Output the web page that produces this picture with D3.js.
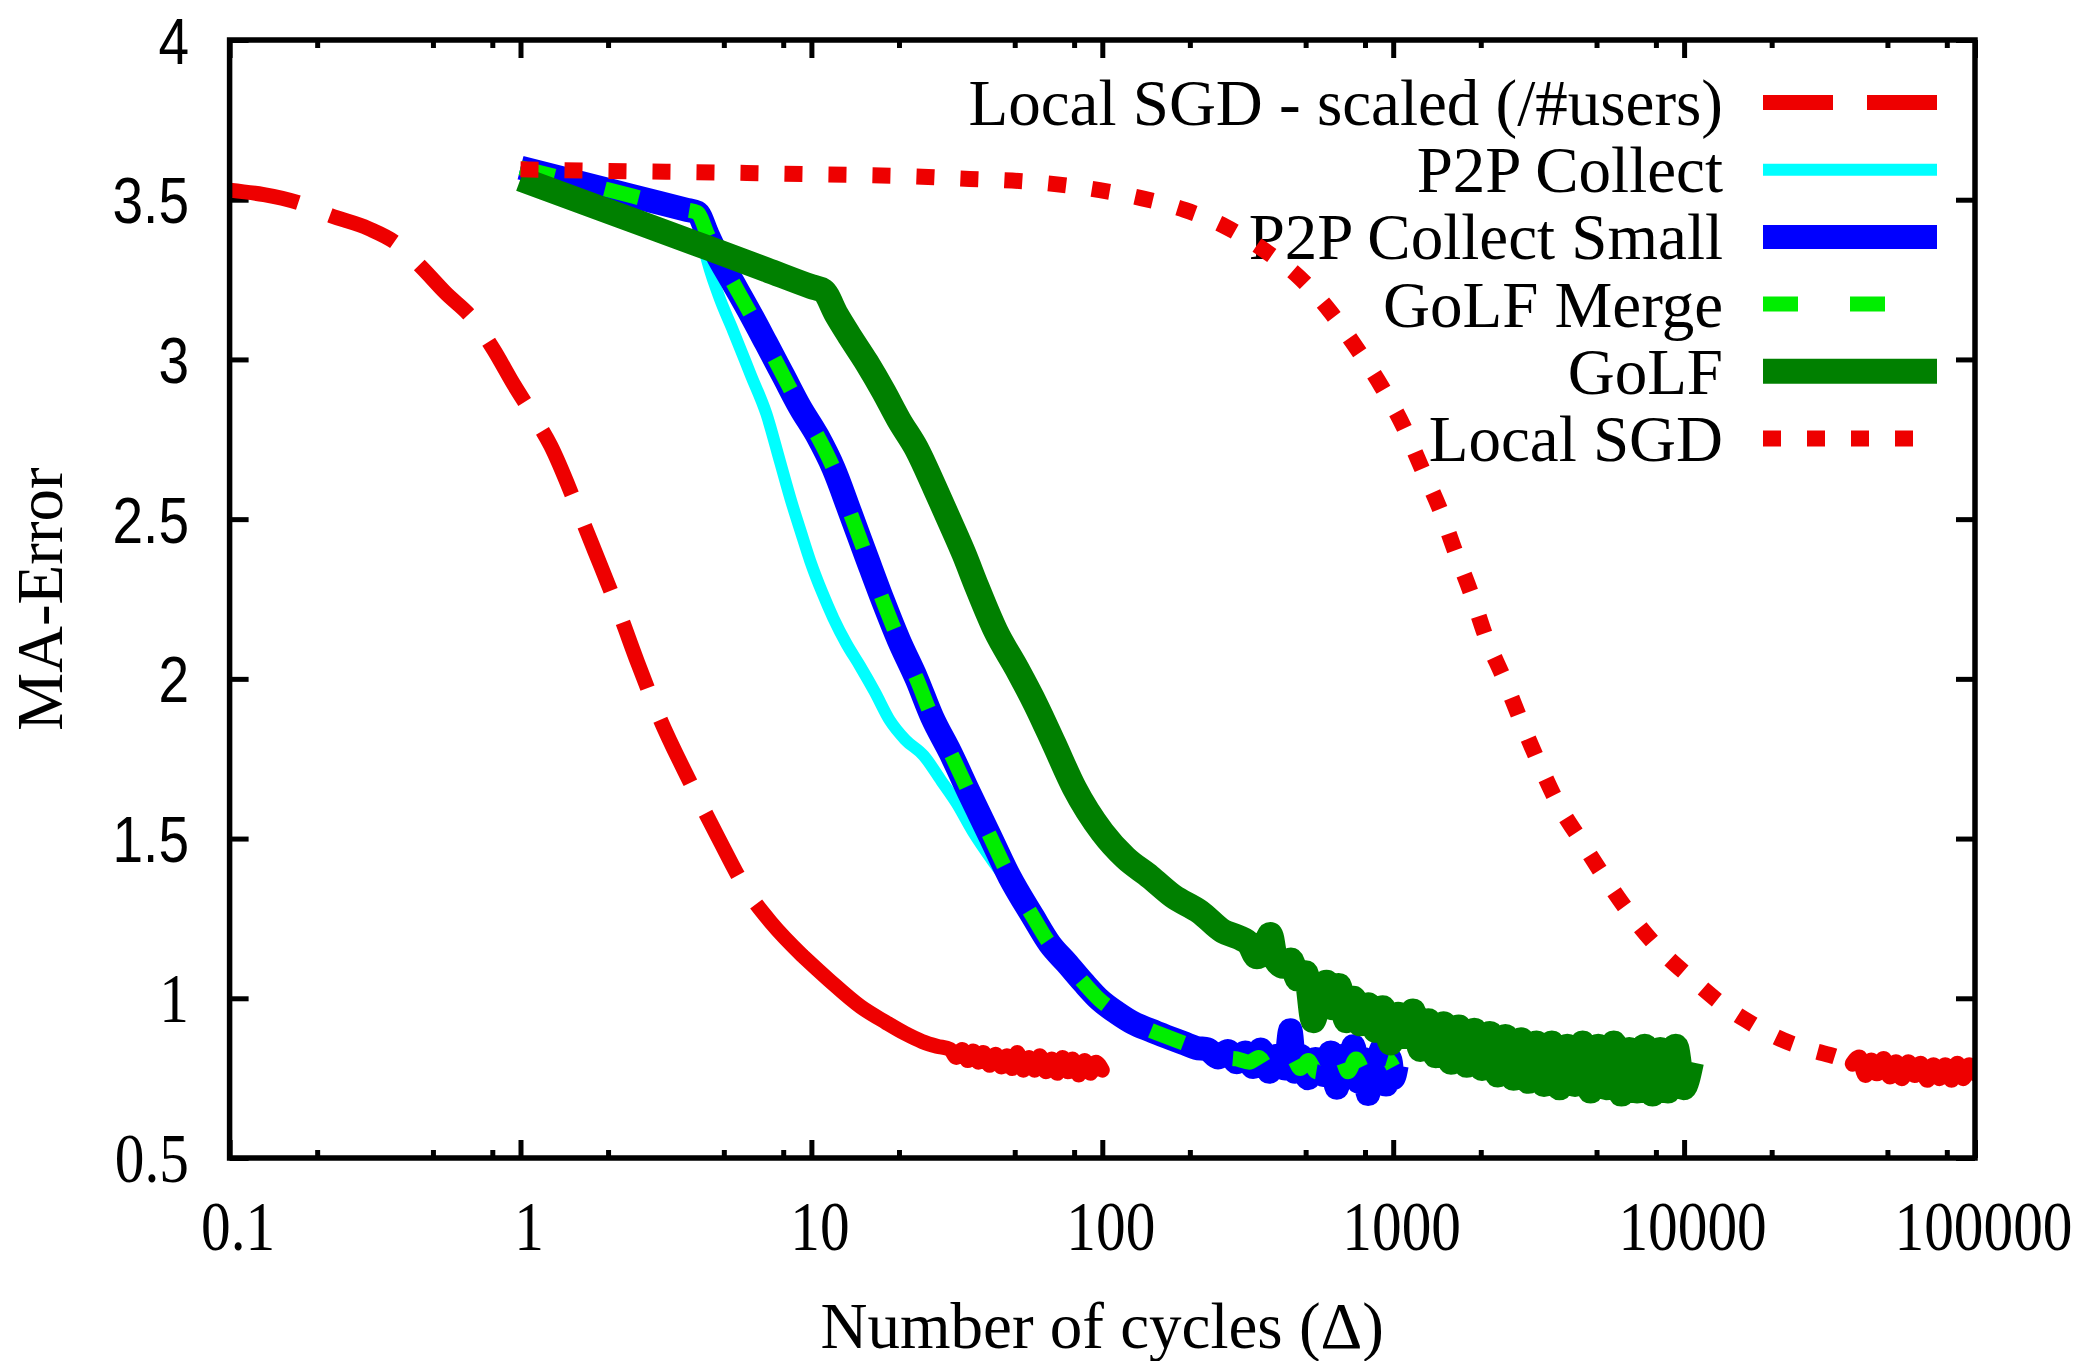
<!DOCTYPE html>
<html>
<head>
<meta charset="utf-8">
<script src="https://cdn.jsdelivr.net/npm/d3@7"></script>
<style>
    body { margin: 0; background: #fff; }
    svg { display: block; }
</style>
</head>
<body>
<svg id="chart" width="2084" height="1361"></svg>
<script>
// values, [cycles, MA-error]
const local_sgd_scaled = [
    [0.1, 3.53], [0.173, 3.49], [0.223, 3.45], [0.3, 3.41], [0.379, 3.36], [0.455, 3.29],
    [0.55, 3.21], [0.695, 3.12], [0.809, 3.03], [0.95, 2.92], [1.095, 2.83], [1.27, 2.73],
    [1.56, 2.54], [1.8, 2.40], [2.2, 2.2], [2.53, 2.05], [3.0, 1.88], [3.86, 1.67],
    [4.8, 1.50], [5.97, 1.34], [7.3, 1.235], [9.4, 1.13], [11.5, 1.057], [14.8, 0.973],
    [18, 0.925], [21, 0.89], [24, 0.865], [27, 0.85], [30, 0.84], [31.5, 0.815], [33, 0.84],
    [34.5, 0.805], [36, 0.835], [37.5, 0.80], [39, 0.83], [41, 0.79], [43, 0.825], [45, 0.785],
    [47, 0.82], [49, 0.78], [51, 0.83], [53.5, 0.775], [56, 0.815], [58.5, 0.775], [61, 0.82],
    [64, 0.77], [67, 0.81], [70, 0.765], [73, 0.815], [76, 0.77], [79, 0.81], [83, 0.76],
    [87, 0.805], [91, 0.765], [95, 0.80], [100, 0.775]
];
const p2p_collect = [
    [1, 3.60], [2, 3.531], [3, 3.49], [3.7, 3.469], [4.05, 3.46], [4.3, 3.34], [4.8, 3.2],
    [5.38, 3.09], [6.2, 2.95], [7.0, 2.83], [7.8, 2.68], [8.5, 2.56], [9.2, 2.46], [9.9, 2.37],
    [10.9, 2.27], [11.9, 2.19], [13.2, 2.11], [14.7, 2.04], [16.5, 1.96], [18.6, 1.87],
    [21, 1.81], [24.3, 1.76], [28, 1.68], [31.6, 1.61], [36, 1.52], [42, 1.43], [48, 1.36],
    [57.8, 1.27], [66, 1.19], [75.5, 1.125], [86, 1.06], [98, 1.005], [112, 0.965],
    [128, 0.93], [150, 0.905], [170, 0.885], [200, 0.86], [250, 0.835], [320, 0.815],
    [420, 0.80], [560, 0.795], [750, 0.79], [1000, 0.79]
];
const p2p_collect_small = [
    [1, 3.60], [2, 3.531], [3, 3.49], [3.7, 3.469], [4.05, 3.46], [4.4, 3.39], [4.73, 3.33],
    [5.38, 3.24], [6.2, 3.14], [7.0, 3.05], [8.0, 2.95], [9.14, 2.85], [10.5, 2.76],
    [11.9, 2.66], [13.6, 2.52], [15.5, 2.38], [17.7, 2.24], [20, 2.12], [23, 2.0], [26, 1.88],
    [30, 1.77], [35, 1.64], [41, 1.51], [48, 1.38], [57.8, 1.255], [66, 1.17], [75.5, 1.11],
    [86, 1.05], [98, 0.995], [112, 0.955], [128, 0.922], [146, 0.90], [166, 0.88],
    [190, 0.86], [210, 0.845], [230, 0.84], [250, 0.815], [270, 0.835], [290, 0.80],
    [310, 0.83], [330, 0.785], [350, 0.84], [375, 0.77], [400, 0.82], [425, 0.78], [443, 0.90],
    [460, 0.77], [480, 0.82], [510, 0.75], [540, 0.81], [575, 0.76], [610, 0.83], [640, 0.72],
    [670, 0.82], [700, 0.76], [730, 0.85], [760, 0.74], [790, 0.81], [820, 0.70], [850, 0.80],
    [880, 0.76], [910, 0.84], [945, 0.73], [975, 0.81], [1000, 0.75], [1028, 0.79]
];
const golf_merge = [
    [1, 3.60], [2, 3.531], [3, 3.49], [3.7, 3.469], [4.05, 3.46], [4.4, 3.39], [4.73, 3.33],
    [5.38, 3.24], [6.2, 3.14], [7.0, 3.05], [8.0, 2.95], [9.14, 2.85], [10.5, 2.76],
    [11.9, 2.66], [13.6, 2.52], [15.5, 2.38], [17.7, 2.24], [20, 2.12], [23, 2.0], [26, 1.88],
    [30, 1.77], [35, 1.64], [41, 1.51], [48, 1.38], [57.8, 1.255], [66, 1.17], [75.5, 1.11],
    [86, 1.05], [98, 0.995], [112, 0.955], [128, 0.922], [146, 0.90], [166, 0.88],
    [190, 0.86], [210, 0.845], [230, 0.835], [260, 0.815], [290, 0.81], [320, 0.80],
    [345, 0.815], [370, 0.785], [395, 0.81], [420, 0.775], [450, 0.815], [480, 0.78],
    [510, 0.805], [545, 0.77], [580, 0.81], [620, 0.775], [660, 0.815], [700, 0.77],
    [745, 0.81], [790, 0.775], [840, 0.815], [890, 0.77], [950, 0.81], [1000, 0.785]
];
const golf = [
    [1, 3.565], [2, 3.464], [4, 3.363], [7, 3.281], [10, 3.228], [11, 3.215], [12.2, 3.14],
    [13.6, 3.07], [15.5, 2.99], [17.7, 2.90], [20, 2.81], [23, 2.72], [26.5, 2.60], [30, 2.49],
    [33.5, 2.39], [37, 2.29], [43, 2.15], [51, 2.03], [59, 1.92], [68, 1.80], [80, 1.66],
    [100, 1.52], [120, 1.44], [146, 1.38], [175, 1.32], [217, 1.27], [260, 1.21], [295, 1.19],
    [320, 1.17], [340, 1.13], [360, 1.15], [378, 1.20], [395, 1.12], [420, 1.10], [445, 1.12],
    [470, 1.06], [500, 1.08], [531, 0.93], [560, 1.02], [590, 1.05], [620, 0.97], [650, 1.04],
    [690, 0.93], [730, 1.00], [770, 0.92], [820, 0.98], [870, 0.90], [920, 0.97], [980, 0.86],
    [1040, 0.95], [1100, 0.88], [1170, 0.96], [1240, 0.84], [1320, 0.93], [1400, 0.82],
    [1490, 0.92], [1580, 0.80], [1680, 0.91], [1790, 0.79], [1900, 0.90], [2020, 0.78],
    [2150, 0.89], [2290, 0.76], [2430, 0.88], [2590, 0.75], [2750, 0.87], [2920, 0.74],
    [3110, 0.86], [3300, 0.73], [3510, 0.86], [3730, 0.72], [3970, 0.85], [4220, 0.73],
    [4480, 0.86], [4770, 0.71], [5070, 0.85], [5390, 0.72], [5730, 0.86], [6090, 0.70],
    [6480, 0.84], [6890, 0.71], [7320, 0.85], [7790, 0.70], [8280, 0.84], [8800, 0.71],
    [9360, 0.85], [9950, 0.72], [10600, 0.80]
];
const local_sgd = [
    [1, 3.595], [2, 3.59], [5, 3.585], [10, 3.58], [24, 3.572], [35, 3.565], [49, 3.56],
    [98, 3.53], [136, 3.505], [192, 3.468], [266, 3.415], [363, 3.34], [478, 3.255],
    [607, 3.15], [749, 3.035], [912, 2.915], [1085, 2.79], [1253, 2.66], [1449, 2.53],
    [1631, 2.40], [1862, 2.262], [2084, 2.13], [2404, 2.0], [2754, 1.866], [3165, 1.737],
    [3694, 1.607], [4445, 1.49], [5310, 1.38], [6490, 1.266], [8200, 1.155], [10600, 1.062],
    [13900, 0.973], [16300, 0.932], [21900, 0.869], [27400, 0.838], [34400, 0.812],
    [38000, 0.795], [40000, 0.815], [42000, 0.76], [44000, 0.805], [46000, 0.765],
    [48500, 0.81], [51000, 0.755], [53500, 0.80], [56000, 0.75], [59000, 0.80], [62000, 0.76],
    [65000, 0.795], [68500, 0.745], [72000, 0.79], [75500, 0.75], [79000, 0.79], [83000, 0.745],
    [87000, 0.795], [91000, 0.75], [95500, 0.79], [100000, 0.765]
];

const series_names = ['Local SGD - scaled (/#users)', 'P2P Collect', 'P2P Collect Small',
    'GoLF Merge', 'GoLF', 'Local SGD'];
const x_ticks = [0.1, 1, 10, 100, 1000, 10000, 100000];
const x_tick_labels = ['0.1', '1', '10', '100', '1000', '10000', '100000'];
const x_minor_ticks = [0.2, 0.5, 0.8, 2, 5, 8, 20, 50, 80, 200, 500, 800, 2000, 5000, 8000,
    20000, 50000, 80000];
const y_ticks = [0.5, 1, 1.5, 2, 2.5, 3, 3.5, 4];
const y_tick_labels = ['0.5', '1', '1.5', '2', '2.5', '3', '3.5', '4'];

// line styles in plot order (gnuplot draws them as listed in the key)
// solid_from: where the dashes of a noisy tail run together into a solid band
const styles = [
    {color: '#ee0000', width: 15, dash: '70,34', solid_from: 9.4},
    {color: '#00ffff', width: 12, dash: null},
    {color: '#0000ff', width: 24, dash: null},
    {color: '#00ee00', width: 15, dash: '35,52'},
    {color: '#008000', width: 25, dash: null},
    {color: '#ee0000', width: 16, dash: '18,26', solid_from: 38000}
];
const all_series = [local_sgd_scaled, p2p_collect, p2p_collect_small, golf_merge, golf, local_sgd];

const SERIF = '"Liberation Serif", "Times New Roman", serif';
const SANS = '"Liberation Sans", Arial, sans-serif';

// plot frame
const m_left = 229.6, m_right = 1975, m_top = 40, m_bottom = 1158;

const svg = d3.select('svg#chart');
const x = d3.scaleLog().domain([0.1, 100000]).range([m_left, m_right]);
const y = d3.scaleLinear().domain([0.5, 4]).range([m_bottom, m_top]);

svg.append('defs').append('clipPath').attr('id', 'plot_clip')
    .append('rect')
    .attr('x', m_left).attr('y', m_top)
    .attr('width', m_right - m_left).attr('height', m_bottom - m_top);

// -------- axes --------
function style_ticks(g, w) {
    g.select('.domain').remove();
    g.selectAll('line').attr('stroke', '#000').attr('stroke-width', w);
}

let gx = svg.append('g')
    .attr('transform', `translate(0,${m_bottom})`)
    .call(d3.axisBottom(x).tickValues(x_ticks).tickSize(-18)
        .tickFormat((d, i) => x_tick_labels[i]));
style_ticks(gx, 5);
gx.selectAll('text')
    .attr('y', 0).attr('dy', 0)
    .attr('transform', 'translate(8,92) scale(0.86,1)')
    .attr('font-family', SERIF)
    .attr('font-size', 69)
    .attr('fill', '#000');

let gx_top = svg.append('g')
    .attr('transform', `translate(0,${m_top})`)
    .call(d3.axisTop(x).tickValues(x_ticks).tickSize(-18).tickFormat(''));
style_ticks(gx_top, 5);

let gx_minor = svg.append('g')
    .attr('transform', `translate(0,${m_bottom})`)
    .call(d3.axisBottom(x).tickValues(x_minor_ticks).tickSize(-8).tickFormat(''));
style_ticks(gx_minor, 5);
let gx_minor_top = svg.append('g')
    .attr('transform', `translate(0,${m_top})`)
    .call(d3.axisTop(x).tickValues(x_minor_ticks).tickSize(-8).tickFormat(''));
style_ticks(gx_minor_top, 5);

let gy = svg.append('g')
    .attr('transform', `translate(${m_left},0)`)
    .call(d3.axisLeft(y).tickValues(y_ticks).tickSize(-19)
        .tickFormat((d, i) => y_tick_labels[i]));
style_ticks(gy, 5);
// the picture mixes two faces in the y labels: 1 and 0.5 are serif, the rest sans
gy.selectAll('text')
    .attr('x', 0).attr('dy', 0)
    .attr('transform', 'translate(-40.6,23) scale(0.86,1)')
    .attr('font-family', d => d >= 1.5 ? SANS : SERIF)
    .attr('font-size', d => d >= 1.5 ? 64 : 69)
    .attr('fill', '#000');

let gy_right = svg.append('g')
    .attr('transform', `translate(${m_right},0)`)
    .call(d3.axisRight(y).tickValues(y_ticks).tickSize(-19).tickFormat(''));
style_ticks(gy_right, 5);

svg.append('text')
    .attr('x', (m_left + m_right) / 2)
    .attr('y', 1348)
    .attr('text-anchor', 'middle')
    .attr('font-family', SERIF)
    .attr('font-size', 65)
    .text('Number of cycles (\u0394)');

svg.append('text')
    .attr('transform', `translate(62,${(m_top + m_bottom) / 2}) rotate(-90)`)
    .attr('text-anchor', 'middle')
    .attr('font-family', SERIF)
    .attr('font-size', 65)
    .text('MA-Error');

// -------- key --------
const key = svg.append('g').attr('id', 'key');
let rows = key.selectAll('g')
    .data(series_names)
    .enter()
    .append('g')
    .attr('transform', (d, i) => `translate(0,${125 + i * 67.2})`);
rows.append('text')
    .attr('x', 1723)
    .attr('text-anchor', 'end')
    .attr('font-family', SERIF)
    .attr('font-size', 65)
    .text(d => d);

// -------- curves --------
const line = d3.line()
    .curve(d3.curveMonotoneX)
    .x(d => x(d[0]))
    .y(d => y(d[1]));

const curves = svg.append('g').attr('clip-path', 'url(#plot_clip)');
all_series.forEach((data, i) => {
    const s = styles[i];
    let parts = [{pts: data, dash: s.dash, cap: 'butt'}];
    if (s.solid_from) {
        parts = [
            {pts: data.filter(d => d[0] <= s.solid_from), dash: s.dash, cap: 'butt'},
            {pts: data.filter(d => d[0] >= s.solid_from), dash: null, cap: 'round'}
        ];
    }
    parts.forEach(p => {
        curves.append('path')
            .attr('d', line(p.pts))
            .attr('fill', 'none')
            .attr('stroke', s.color)
            .attr('stroke-width', s.width)
            .attr('stroke-dasharray', p.dash)
            .attr('stroke-linejoin', 'round')
            .attr('stroke-linecap', p.cap);
    });
});

// key samples
rows.append('line')
    .attr('x1', 1763).attr('x2', 1937)
    .attr('y1', -22.5).attr('y2', -22.5)
    .attr('stroke', (d, i) => styles[i].color)
    .attr('stroke-width', (d, i) => styles[i].width)
    .attr('stroke-dasharray', (d, i) => styles[i].dash);

// border on top
svg.append('rect')
    .attr('x', m_left).attr('y', m_top)
    .attr('width', m_right - m_left).attr('height', m_bottom - m_top)
    .attr('fill', 'none')
    .attr('stroke', '#000')
    .attr('stroke-width', 5.5);
</script>
</body>
</html>
